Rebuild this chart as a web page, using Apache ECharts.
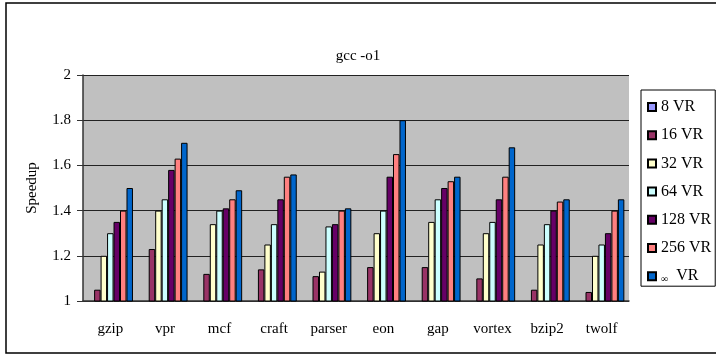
<!DOCTYPE html>
<html>
<head>
<meta charset="utf-8">
<script src="https://cdn.jsdelivr.net/npm/echarts@6/dist/echarts.min.js"></script>
<style>
html,body{margin:0;padding:0;background:#fff;}
#c{width:716px;height:356px;}
</style>
</head>
<body>
<div id="c"></div>
<script>
const categories = ['gzip','vpr','mcf','craft','parser','eon','gap','vortex','bzip2','twolf'];
const seriesNames = ['8 VR','16 VR','32 VR','64 VR','128 VR','256 VR','∞ VR'];
const vr8   = [1,1,1,1,1,1,1,1,1,1];
const vr16  = [1.05,1.23,1.12,1.14,1.11,1.15,1.15,1.10,1.05,1.04];
const vr32  = [1.20,1.40,1.34,1.25,1.13,1.30,1.35,1.30,1.25,1.20];
const vr64  = [1.30,1.45,1.40,1.34,1.33,1.40,1.45,1.35,1.34,1.25];
const vr128 = [1.35,1.58,1.41,1.45,1.34,1.55,1.50,1.45,1.40,1.30];
const vr256 = [1.40,1.63,1.45,1.55,1.40,1.65,1.53,1.55,1.44,1.40];
const vrInf = [1.50,1.70,1.49,1.56,1.41,1.80,1.55,1.68,1.45,1.45];
const yTicks = {min:1, max:2, interval:0.2};
const colors = ['#9999FF','#993366','#FFFFCC','#CCFFFF','#660066','#FF8080','#0066CC'];
const allData = [vr8,vr16,vr32,vr64,vr128,vr256,vrInf];

const FONT = "'Liberation Serif','Times New Roman',serif";
const chart = echarts.init(document.getElementById('c'), null, {renderer:'canvas'});
chart.setOption({
  animation:false,
  backgroundColor:'#fff',
  title:{
    text:'gcc -o1', left:'center', top:44,
    textStyle:{fontFamily:FONT, fontSize:15, fontWeight:'normal', color:'#000'}
  },
  graphic:[{
    type:'rect', shape:{x:6,y:3,width:712,height:350},
    style:{fill:'none', stroke:'#000', lineWidth:1.5}, silent:true, z:-1
  }],
  legend:{
    orient:'vertical', left:641, top:90, width:73,
    padding:[9,4,2,6], itemGap:12.2, itemWidth:8, itemHeight:8,
    borderColor:'#000', borderWidth:1, icon:'rect',
    textStyle:{fontFamily:FONT, fontSize:16, color:'#000',
      rich:{s:{fontFamily:FONT,fontSize:10,color:'#000',verticalAlign:'bottom',padding:[6,0,0,0]}}},
    formatter:function(n){ return n.indexOf('∞')===0 ? '{s|∞}  VR' : n; },
    data:seriesNames
  },
  grid:{left:83, right:87, top:75, bottom:55},
  xAxis:{
    type:'category', data:categories,
    axisLine:{lineStyle:{color:'#333', width:1.5}},
    axisTick:{inside:true, length:4, lineStyle:{color:'#333'}},
    axisLabel:{fontFamily:FONT, fontSize:15, color:'#000', margin:21},
    splitArea:{show:false}
  },
  yAxis:{
    type:'value', min:yTicks.min, max:yTicks.max, interval:yTicks.interval,
    name:'Speedup', nameLocation:'middle', nameRotate:90, nameGap:43,
    nameTextStyle:{fontFamily:FONT, fontSize:15, color:'#000'},
    axisLine:{show:true, lineStyle:{color:'#333', width:1.5}},
    axisTick:{show:true, length:6, lineStyle:{color:'#333'}},
    axisLabel:{fontFamily:FONT, fontSize:15, color:'#000', margin:12},
    splitLine:{lineStyle:{color:'#222', width:1}},
    splitArea:{show:true, areaStyle:{color:['#C0C0C0','#C0C0C0']}}
  },
  series: seriesNames.map((n,i)=>({
    name:n, type:'bar', data:allData[i],
    barGap:'0%', barCategoryGap:'17%',
    itemStyle:{color:colors[i], borderColor:'#000', borderWidth:1}
  }))
});
</script>
</body>
</html>
